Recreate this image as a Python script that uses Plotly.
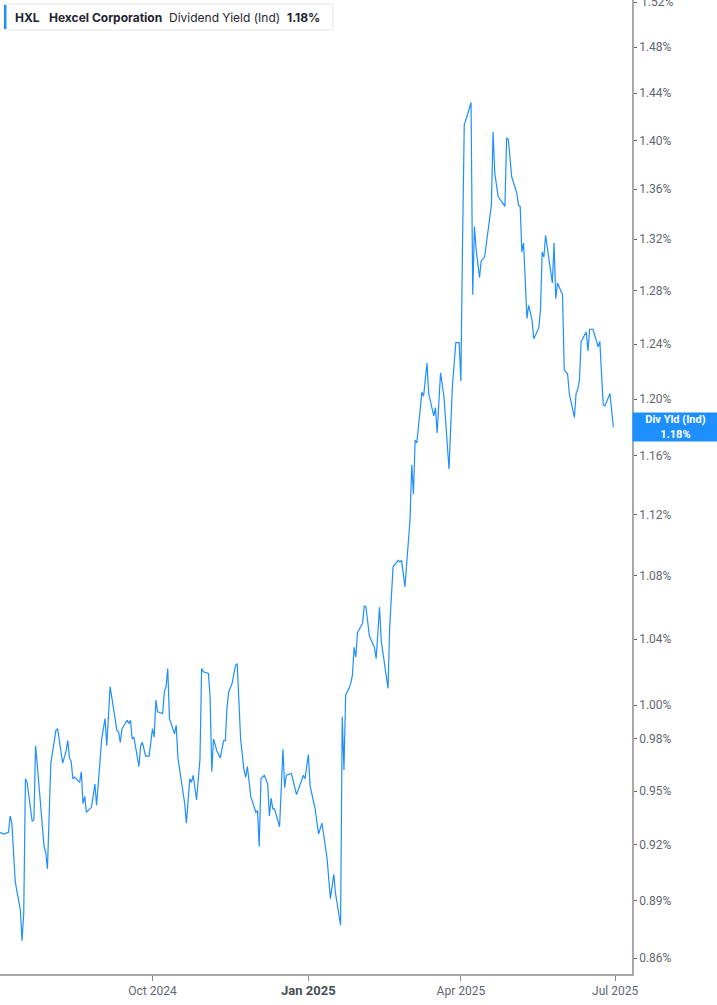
import math
import plotly.graph_objects as go

# dividend yield (%)
dates = [
    "2024-07-03", "2024-07-05", "2024-07-08", "2024-07-09", "2024-07-10", "2024-07-12",
    "2024-07-15", "2024-07-16", "2024-07-17", "2024-07-18", "2024-07-19", "2024-07-22",
    "2024-07-23", "2024-07-24", "2024-07-25", "2024-07-27", "2024-07-29", "2024-07-30",
    "2024-07-31", "2024-08-02", "2024-08-03", "2024-08-05", "2024-08-06", "2024-08-08",
    "2024-08-09", "2024-08-11", "2024-08-12", "2024-08-13", "2024-08-14", "2024-08-15",
    "2024-08-16", "2024-08-19", "2024-08-20", "2024-08-21", "2024-08-22", "2024-08-23",
    "2024-08-26", "2024-08-28", "2024-08-29", "2024-08-30", "2024-09-01", "2024-09-03",
    "2024-09-04", "2024-09-06", "2024-09-08", "2024-09-10", "2024-09-11", "2024-09-12",
    "2024-09-13", "2024-09-16", "2024-09-17", "2024-09-18", "2024-09-19", "2024-09-20",
    "2024-09-23", "2024-09-24", "2024-09-25", "2024-09-27", "2024-09-29", "2024-10-01",
    "2024-10-02", "2024-10-03", "2024-10-04", "2024-10-07", "2024-10-08", "2024-10-09",
    "2024-10-10", "2024-10-11", "2024-10-14", "2024-10-15", "2024-10-16", "2024-10-18",
    "2024-10-20", "2024-10-21", "2024-10-23", "2024-10-24", "2024-10-25", "2024-10-27",
    "2024-10-29", "2024-10-30", "2024-10-31", "2024-11-03", "2024-11-04", "2024-11-05",
    "2024-11-06", "2024-11-08", "2024-11-10", "2024-11-12", "2024-11-13", "2024-11-14",
    "2024-11-15", "2024-11-17", "2024-11-19", "2024-11-20", "2024-11-22", "2024-11-24",
    "2024-11-25", "2024-11-26", "2024-11-28", "2024-12-01", "2024-12-02", "2024-12-03",
    "2024-12-04", "2024-12-06", "2024-12-08", "2024-12-09", "2024-12-10", "2024-12-11",
    "2024-12-12", "2024-12-15", "2024-12-17", "2024-12-18", "2024-12-19", "2024-12-22",
    "2024-12-25", "2024-12-28", "2024-12-29", "2024-12-30", "2025-01-01", "2025-01-02",
    "2025-01-05", "2025-01-07", "2025-01-09", "2025-01-12", "2025-01-14", "2025-01-16",
    "2025-01-17", "2025-01-20", "2025-01-21", "2025-01-22", "2025-01-23", "2025-01-25",
    "2025-01-26", "2025-01-27", "2025-01-28", "2025-01-29", "2025-01-30", "2025-02-02",
    "2025-02-03", "2025-02-04", "2025-02-06", "2025-02-09", "2025-02-10", "2025-02-12",
    "2025-02-13", "2025-02-17", "2025-02-18", "2025-02-20", "2025-02-23", "2025-02-24",
    "2025-02-25", "2025-02-27", "2025-03-02", "2025-03-03", "2025-03-04", "2025-03-05",
    "2025-03-06", "2025-03-09", "2025-03-10", "2025-03-12", "2025-03-13", "2025-03-16",
    "2025-03-17", "2025-03-18", "2025-03-20", "2025-03-22", "2025-03-25", "2025-03-27",
    "2025-03-29", "2025-03-31", "2025-04-01", "2025-04-02", "2025-04-03", "2025-04-05",
    "2025-04-07", "2025-04-08", "2025-04-09", "2025-04-10", "2025-04-12", "2025-04-13",
    "2025-04-14", "2025-04-15", "2025-04-19", "2025-04-20", "2025-04-21", "2025-04-23",
    "2025-04-27", "2025-04-28", "2025-04-29", "2025-05-01", "2025-05-04", "2025-05-05",
    "2025-05-06", "2025-05-07", "2025-05-08", "2025-05-10", "2025-05-11", "2025-05-13",
    "2025-05-14", "2025-05-17", "2025-05-18", "2025-05-19", "2025-05-20", "2025-05-21",
    "2025-05-25", "2025-05-26", "2025-05-27", "2025-05-28", "2025-05-31", "2025-06-01",
    "2025-06-03", "2025-06-04", "2025-06-07", "2025-06-08", "2025-06-09", "2025-06-10",
    "2025-06-11", "2025-06-14", "2025-06-15", "2025-06-16", "2025-06-18", "2025-06-21",
    "2025-06-22", "2025-06-24", "2025-06-25", "2025-06-28", "2025-06-30",
]
div_yield = [
    0.927, 0.926, 0.927, 0.936, 0.932, 0.900,
    0.885, 0.869, 0.883, 0.957, 0.955, 0.933,
    0.934, 0.976, 0.965, 0.941, 0.919, 0.916,
    0.907, 0.966, 0.972, 0.985, 0.986, 0.974,
    0.966, 0.973, 0.979, 0.969, 0.967, 0.957,
    0.958, 0.955, 0.961, 0.943, 0.947, 0.938,
    0.941, 0.954, 0.942, 0.954, 0.980, 0.992,
    0.976, 1.011, 0.999, 0.985, 0.984, 0.978,
    0.986, 0.991, 0.989, 0.991, 0.980, 0.981,
    0.964, 0.976, 0.978, 0.970, 0.970, 0.986,
    0.981, 1.003, 0.996, 0.995, 1.008, 1.011,
    1.022, 0.992, 0.983, 0.988, 0.969, 0.957,
    0.943, 0.932, 0.957, 0.955, 0.959, 0.945,
    0.968, 1.022, 1.020, 1.019, 1.005, 0.961,
    0.980, 0.973, 0.969, 0.979, 0.979, 0.999,
    1.008, 1.013, 1.024, 1.025, 0.980, 0.962,
    0.958, 0.964, 0.947, 0.938, 0.939, 0.919,
    0.957, 0.959, 0.954, 0.936, 0.946, 0.940,
    0.940, 0.930, 0.974, 0.952, 0.959, 0.960,
    0.948, 0.956, 0.959, 0.957, 0.971, 0.953,
    0.940, 0.926, 0.932, 0.913, 0.891, 0.904,
    0.894, 0.877, 0.993, 0.962, 1.006, 1.010,
    1.013, 1.018, 1.035, 1.029, 1.044, 1.050,
    1.061, 1.060, 1.042, 1.035, 1.028, 1.060,
    1.039, 1.010, 1.048, 1.086, 1.090, 1.089,
    1.090, 1.073, 1.117, 1.154, 1.134, 1.171,
    1.169, 1.205, 1.202, 1.226, 1.204, 1.188,
    1.194, 1.176, 1.219, 1.202, 1.151, 1.209,
    1.241, 1.241, 1.213, 1.319, 1.413, 1.422,
    1.432, 1.277, 1.330, 1.312, 1.290, 1.303,
    1.305, 1.306, 1.347, 1.407, 1.373, 1.354,
    1.346, 1.402, 1.401, 1.370, 1.357, 1.347,
    1.346, 1.310, 1.317, 1.259, 1.269, 1.258,
    1.244, 1.252, 1.266, 1.310, 1.306, 1.323,
    1.286, 1.317, 1.274, 1.286, 1.277, 1.221,
    1.218, 1.204, 1.187, 1.204, 1.207, 1.214,
    1.242, 1.249, 1.235, 1.251, 1.251, 1.238,
    1.242, 1.196, 1.195, 1.204, 1.180,
]

tick_vals = [0.86, 0.89, 0.92, 0.95, 0.98, 1.00, 1.04, 1.08, 1.12, 1.16,
             1.20, 1.24, 1.28, 1.32, 1.36, 1.40, 1.44, 1.48, 1.52]
tick_text = [f"{v:.2f}%" for v in tick_vals]
x_ticks = ["2024-10-01", "2025-01-01", "2025-04-01", "2025-07-01"]
x_labels = ["Oct 2024", "<span style='font-size:13px;color:#4a4f57'><b>Jan 2025</b></span>",
            "Apr 2025", "Jul 2025"]

latest = div_yield[-1]
blue = "#1e8fff"
axis_grey = "#a8a8a8"
label_grey = "#5f6670"

W, H = 717, 1005
ml, mr, mt, mb = 0, 85, 0, 31
pw, ph = W - ml - mr, H - mt - mb


def px_x(p):
    return p / pw


def px_y(p):
    return 1 - p / ph


fig = go.Figure()
fig.add_trace(go.Scatter(x=dates, y=div_yield, mode="lines",
                         line=dict(color=blue, width=1.2),
                         hoverinfo="x+y", showlegend=False))

fig.update_layout(
    width=W, height=H,
    margin=dict(l=ml, r=mr, t=mt, b=mb),
    paper_bgcolor="white", plot_bgcolor="white",
    font=dict(family="Roboto, Arial, sans-serif", size=12, color=label_grey),
    xaxis=dict(
        type="date",
        range=["2024-07-03", "2025-07-11"],
        tickvals=x_ticks, ticktext=x_labels,
        showgrid=False, zeroline=False,
        showline=True, linecolor=axis_grey, linewidth=1.5,
        ticks="outside", ticklen=5, tickcolor="#888888", tickwidth=1,
        tickfont=dict(size=12, color=label_grey),
    ),
    yaxis=dict(
        type="log", side="right",
        range=[math.log10(0.8519), math.log10(1.5222)],
        tickvals=tick_vals, ticktext=tick_text,
        showgrid=False, zeroline=False,
        showline=True, linecolor=axis_grey, linewidth=1.5,
        ticks="outside", ticklen=3, tickcolor="#666666", tickwidth=1,
        tickfont=dict(size=12, color=label_grey),
    ),
)

# top tick label sits on the page edge and plotly drops it, so place it by hand
fig.add_annotation(xref="paper", yref="y", x=1, y=math.log10(tick_vals[-1]),
                   xanchor="left", yanchor="middle", showarrow=False, xshift=7,
                   text=tick_text[-1], font=dict(size=12, color=label_grey))

# header box, top left
fig.add_shape(type="rect", xref="paper", yref="paper",
              x0=px_x(4), x1=px_x(333), y0=px_y(30), y1=px_y(4),
              line=dict(color="#e4e6ea", width=1), fillcolor="white", layer="above")
fig.add_shape(type="rect", xref="paper", yref="paper",
              x0=px_x(4), x1=px_x(6.5), y0=px_y(29), y1=px_y(5),
              line=dict(width=0), fillcolor=blue, layer="above")
header = [
    (13, "<b>HXL</b>"),
    (47, "<b>Hexcel Corporation</b>"),
    (167, "Dividend Yield (Ind)"),
    (285, f"<b>{latest:.2f}%</b>"),
]
for px, txt in header:
    fig.add_annotation(xref="paper", yref="paper", x=px_x(px), y=px_y(17),
                       xanchor="left", yanchor="middle", showarrow=False, text=txt,
                       font=dict(family="Inter, Roboto, sans-serif", size=12, color="#1f2430"))

# current value label on the right axis
fig.add_annotation(xref="paper", yref="y", x=1, y=math.log10(latest),
                   xanchor="left", yanchor="middle", showarrow=False,
                   text=f"<b>Div Yld (Ind)</b><br><b>{latest:.2f}%</b>",
                   font=dict(family="Roboto, Arial, sans-serif", size=11, color="white"),
                   bgcolor=blue, width=81, height=24, borderpad=2, align="center")

# page has a default 8px body margin; drop it so the figure fills the window
fig.write_html("out.html", config={"displayModeBar": False},
               post_script="document.body.style.margin='0';")
